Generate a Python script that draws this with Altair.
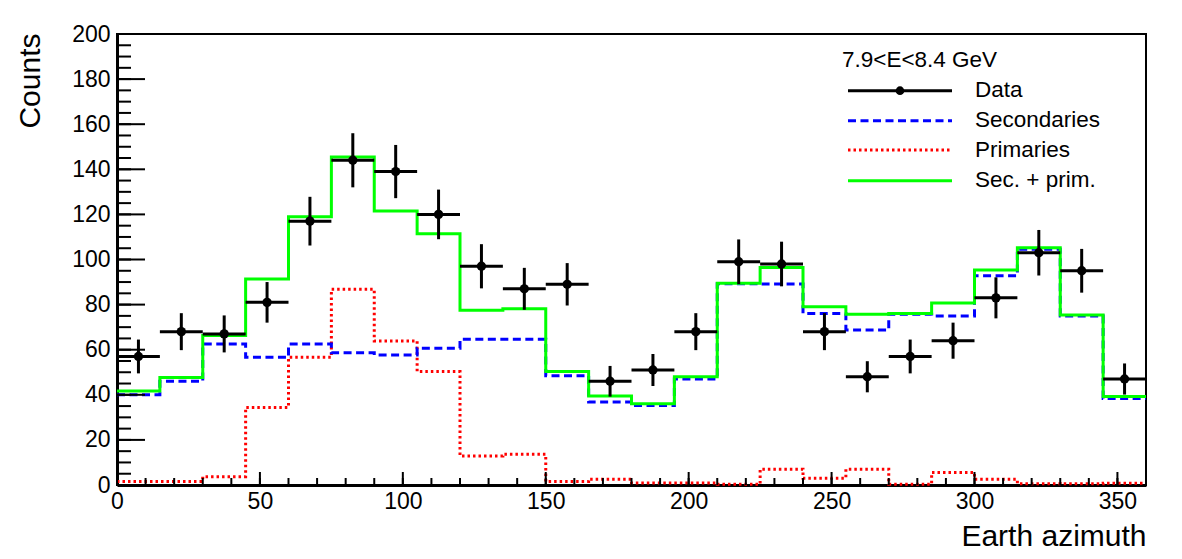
import altair as alt
import pandas as pd

# ---- data ----
bin_edges = [0, 15, 30, 45, 60, 75, 90, 105, 120, 135, 150, 165, 180,
             195, 210, 225, 240, 255, 270, 285, 300, 315, 330, 345, 360]
data_counts = [57, 68, 67, 81, 117, 144, 139, 120, 97, 87, 89, 46,
               51, 68, 99, 98, 68, 48, 57, 64, 83, 103, 95, 47]
data_errors = [7.5, 8.2, 8.2, 9.0, 10.8, 12.0, 11.8, 11.0, 9.8, 9.3, 9.4, 6.8,
               7.1, 8.2, 9.9, 9.9, 8.2, 6.9, 7.5, 8.0, 9.1, 10.1, 9.7, 6.9]
secondaries = [40, 46, 62.5, 56.6, 62.5, 58.7, 57.6, 60.6, 64.6, 64.6, 48.5, 36.8,
               35.2, 47, 89.3, 89.1, 76.1, 68.7, 75.7, 75, 92.8, 104.5, 75, 38.4]
primaries = [1.5, 1.5, 3.7, 34.4, 56.6, 86.8, 63.9, 50.3, 12.9, 13.6, 1.5, 2.6,
             0.9, 0.9, 0.3, 7, 3, 7, 0.3, 5.5, 2.5, 0.6, 0.5, 0.8]
sec_plus_prim = [41.7, 47.7, 66.3, 91.4, 119, 145.4, 121.5, 111.4, 77.5, 78.2, 50.3, 39.5,
                 36, 48, 89.5, 96.4, 79.1, 75.7, 76, 80.7, 95.3, 105.2, 75.4, 39.2]
y_tick_labels = [0, 20, 40, 60, 80, 100, 120, 140, 160, 180, 200]
y_minor_ticks = list(range(0, 201, 5))
x_tick_labels = [0, 50, 100, 150, 200, 250, 300, 350]
x_minor_ticks = list(range(0, 361, 10))
legend_header = "7.9<E<8.4 GeV"
legend_labels = ["Data", "Secondaries", "Primaries", "Sec. + prim."]

FONT = "Liberation Sans"
W, H = 1029, 451

lo = bin_edges[:-1]
hi = bin_edges[1:]
pts = pd.DataFrame({
    "lo": lo, "hi": hi,
    "c": [(a + b) / 2 for a, b in zip(lo, hi)],
    "n": data_counts, "e": data_errors,
})
pts["ylo"] = pts["n"] - pts["e"]
pts["yhi"] = pts["n"] + pts["e"]


def step_df(vals):
    return pd.DataFrame({"x": bin_edges, "y": list(vals) + [vals[-1]]})


xs = alt.Scale(domain=[0, 360], nice=False, zero=False)
ys = alt.Scale(domain=[0, 200], nice=False, zero=False)

x_axis = alt.Axis(values=x_tick_labels, ticks=False, domain=True, domainWidth=3,
                  domainColor="black", grid=False, labelFontSize=23, labelFont=FONT,
                  labelColor="black", labelPadding=5, labelAngle=0, labelOverlap=False,
                  labelFlush=False, labelBound=False,
                  title="Earth azimuth", titleFont=FONT, titleFontSize=30,
                  titleFontWeight="normal", titleColor="black", titleAnchor="end",
                  titleAlign="right", titleX=W, titleY=60, titleBaseline="alphabetic")
y_axis = alt.Axis(values=y_tick_labels, ticks=False, domain=True, domainWidth=3,
                  domainColor="black", grid=False, labelFontSize=23, labelFont=FONT,
                  labelColor="black", labelPadding=7, labelOverlap=False,
                  labelFlush=False, labelBound=False,
                  title="Counts", titleFont=FONT, titleFontSize=30,
                  titleFontWeight="normal", titleColor="black", titleAngle=270,
                  titleX=-102, titleY=-1, titleAlign="right", titleBaseline="top")


def X(f):
    return alt.X(f, type="quantitative", scale=xs, axis=x_axis)


def Y(f):
    return alt.Y(f, type="quantitative", scale=ys, axis=y_axis)


red = alt.Chart(step_df(primaries)).mark_line(
    interpolate="step-after", color="#ff0000", strokeWidth=3, strokeDash=[2.5, 3]
).encode(x=X("x"), y=Y("y"))

blue = alt.Chart(step_df(secondaries)).mark_line(
    interpolate="step-after", color="#0000ff", strokeWidth=3, strokeDash=[8, 4.5]
).encode(x=X("x"), y=Y("y"))

green = alt.Chart(step_df(sec_plus_prim)).mark_line(
    interpolate="step-after", color="#00ff00", strokeWidth=3
).encode(x=X("x"), y=Y("y"))

base = alt.Chart(pts)
hbars = base.mark_rule(color="black", strokeWidth=3).encode(
    x=X("lo"), x2="hi:Q", y=Y("n"))
vbars = base.mark_rule(color="black", strokeWidth=3).encode(
    x=X("c"), y=Y("ylo"), y2="yhi:Q")
dots = base.mark_point(filled=True, shape="circle", size=87, color="black", opacity=1).encode(
    x=X("c"), y=Y("n"))

# inward ticks (ROOT style)
yt_major = alt.Chart(pd.DataFrame({"v": y_tick_labels})).mark_rule(color="black", strokeWidth=2).encode(
    y=Y("v"), x=alt.value(0), x2=alt.value(28))
yt_minor = alt.Chart(pd.DataFrame({"v": y_minor_ticks})).mark_rule(color="black", strokeWidth=2).encode(
    y=Y("v"), x=alt.value(0), x2=alt.value(14))
xt_major = alt.Chart(pd.DataFrame({"v": x_tick_labels})).mark_rule(color="black", strokeWidth=2).encode(
    x=X("v"), y=alt.value(H), y2=alt.value(H - 13))
xt_minor = alt.Chart(pd.DataFrame({"v": x_minor_ticks})).mark_rule(color="black", strokeWidth=2).encode(
    x=X("v"), y=alt.value(H), y2=alt.value(H - 7))

# hand-drawn legend
one = pd.DataFrame({"k": [0]})
LX0, LX1, LXM, LTX = 731, 835, 783, 858
rows = [56.7, 86.7, 116.0, 146.7]
leg = [
    alt.Chart(one).mark_text(text=legend_header, font=FONT, fontSize=22.5, align="left",
                             baseline="alphabetic", color="black").encode(
        x=alt.value(725), y=alt.value(32.7)),
    alt.Chart(one).mark_rule(color="black", strokeWidth=3).encode(
        x=alt.value(LX0), x2=alt.value(LX1), y=alt.value(rows[0])),
    alt.Chart(one).mark_point(filled=True, shape="circle", size=75, color="black", opacity=1).encode(
        x=alt.value(LXM), y=alt.value(rows[0])),
    alt.Chart(one).mark_rule(color="#0000ff", strokeWidth=3, strokeDash=[8, 4.5]).encode(
        x=alt.value(LX0), x2=alt.value(LX1), y=alt.value(rows[1])),
    alt.Chart(one).mark_rule(color="#ff0000", strokeWidth=3, strokeDash=[2.5, 3]).encode(
        x=alt.value(LX0), x2=alt.value(LX1), y=alt.value(rows[2])),
    alt.Chart(one).mark_rule(color="#00ff00", strokeWidth=3).encode(
        x=alt.value(LX0), x2=alt.value(LX1), y=alt.value(rows[3])),
]
for lab, ry in zip(legend_labels, rows):
    leg.append(alt.Chart(one).mark_text(text=lab, font=FONT, fontSize=22.5, align="left",
                                        baseline="alphabetic", color="black").encode(
        x=alt.value(LTX), y=alt.value(ry + 6.5)))

chart = alt.layer(
    red, blue, green, hbars, vbars, dots,
    yt_major, yt_minor, xt_major, xt_minor, *leg
).properties(
    width=W, height=H,
    autosize=alt.AutoSizeParams(type="none"),
    padding={"left": 117, "top": 34, "right": 36, "bottom": 74},
    background="white",
).configure_view(stroke="black", strokeWidth=2)

chart.save("out.html", embed_options={"renderer": "svg", "actions": False})
